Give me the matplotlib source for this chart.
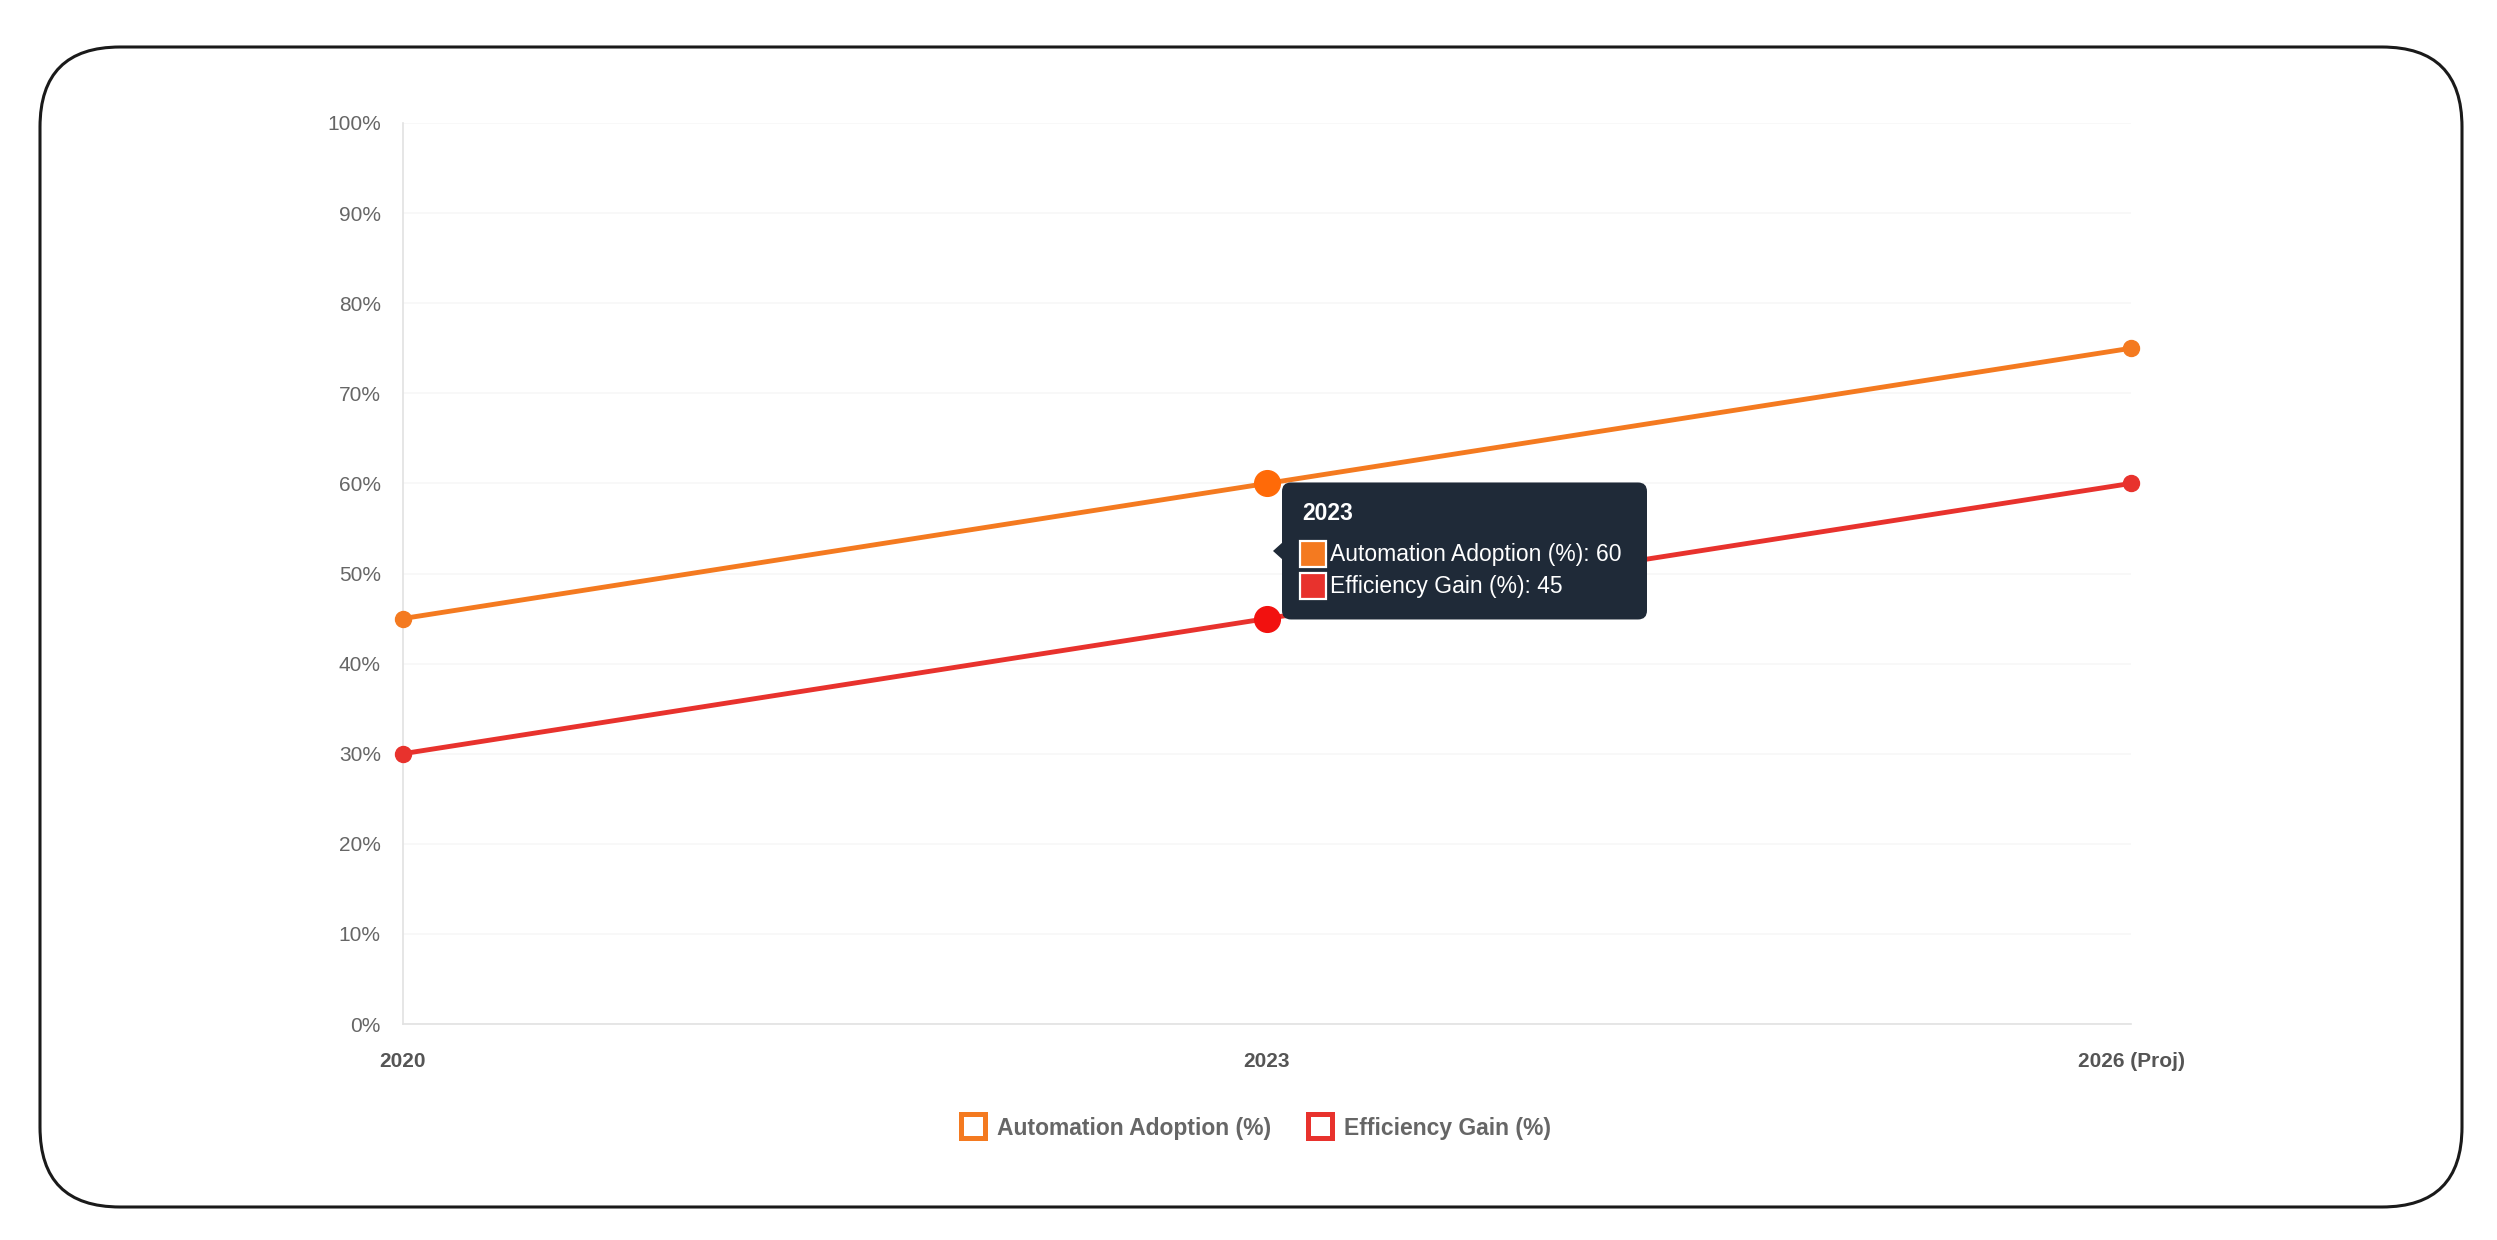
import matplotlib.pyplot as plt
from matplotlib.patches import FancyBboxPatch, Polygon, Rectangle
from matplotlib.lines import Line2D

plt.rcParams['font.family'] = ['Liberation Sans', 'DejaVu Sans']

# data
years = ['2020', '2023', '2026 (Proj)']
automation = [45, 60, 75]
efficiency = [30, 45, 60]
y_ticks = [0, 10, 20, 30, 40, 50, 60, 70, 80, 90, 100]
hover_idx = 1  # point with the tooltip shown

names = ['Automation Adoption (%)', 'Efficiency Gain (%)']
colors = ['#F47A20', '#E8322D']
hover_colors = ['#FF6A08', '#F2110F']

W, H = 2497, 1240
fig = plt.figure(figsize=(W / 100, H / 100), dpi=100)
ax = fig.add_axes([403 / W, 1 - 1024 / H, (2131 - 403) / W, (1024 - 123) / H])

x = list(range(len(years)))
for vals, col, hcol in zip([automation, efficiency], colors, hover_colors):
    ax.plot(x, vals, color=col, lw=3.5, marker='o', ms=11.5, mec=col,
            clip_on=False, zorder=3, solid_capstyle='butt')
    ax.plot([x[hover_idx]], [vals[hover_idx]], 'o', ms=18.5, color=hcol,
            clip_on=False, zorder=4)

ax.set_xlim(0, len(years) - 1)
ax.set_ylim(0, 100)
ax.set_yticks(y_ticks)
ax.set_yticklabels([f'{t}%' for t in y_ticks])
ax.set_xticks(x)
ax.set_xticklabels(years, fontweight='bold')
ax.tick_params(axis='y', length=0, pad=16, labelsize=15, labelcolor='#666666')
ax.tick_params(axis='x', length=0, pad=20, labelsize=15, labelcolor='#555555')
ax.grid(axis='y', color='#f7f7f7', lw=1.2)
ax.set_axisbelow(True)
for s in ['top', 'right']:
    ax.spines[s].set_visible(False)
for s in ['left', 'bottom']:
    ax.spines[s].set_color('#e2e2e2')
    ax.spines[s].set_linewidth(1.2)

# legend
handles = [Line2D([], [], ls='none', marker='s', ms=17, mfc='white', mec=c, mew=3.6)
           for c in colors]
fig.legend(handles, names, loc='center', bbox_to_anchor=(1255 / W, 1 - 1128 / H),
           ncol=2, frameon=False, handlelength=1.2, handletextpad=0.45,
           columnspacing=1.5, prop={'size': 16.5, 'weight': 'bold'}, labelcolor='#666666')

# overlay in pixel units for frame and tooltip
ov = fig.add_axes([0, 0, 1, 1])
ov.set_xlim(0, W)
ov.set_ylim(H, 0)
ov.axis('off')

frame = FancyBboxPatch((40, 47), 2422, 1160, boxstyle='round,pad=0,rounding_size=80',
                       fc='none', ec='#1a1a1a', lw=2.2)
ov.add_patch(frame)

# tooltip anchored on hovered points
p_top = ax.transData.transform((x[hover_idx], automation[hover_idx]))
p_bot = ax.transData.transform((x[hover_idx], efficiency[hover_idx]))
px = p_top[0]
py = H - (p_top[1] + p_bot[1]) / 2
bw, bh = 365, 137
left = px + 15
top = py - bh / 2
bg = '#1F2A38'
ov.add_patch(FancyBboxPatch((left, top), bw, bh, boxstyle='round,pad=0,rounding_size=9',
                            fc=bg, ec='none', zorder=5))
ov.add_patch(Polygon([[left - 9, py], [left + 1, py - 9], [left + 1, py + 9]],
                     closed=True, fc=bg, ec='none', zorder=5))
ov.text(left + 20, top + 31, years[hover_idx], color='white', fontsize=16.5,
        fontweight='bold', va='center', ha='left', zorder=6)
rows = [automation[hover_idx], efficiency[hover_idx]]
for i, (nm, v, c) in enumerate(zip(names, rows, colors)):
    ry = top + 72 + i * 32
    ov.add_patch(Rectangle((left + 18, ry - 13), 26, 26, fc=c, ec='white', lw=1.6, zorder=6))
    ov.text(left + 48, ry, f'{nm}: {v}', color='white', fontsize=16.5,
            va='center', ha='left', zorder=6)

fig.savefig('out.png', dpi=100, facecolor='white')
